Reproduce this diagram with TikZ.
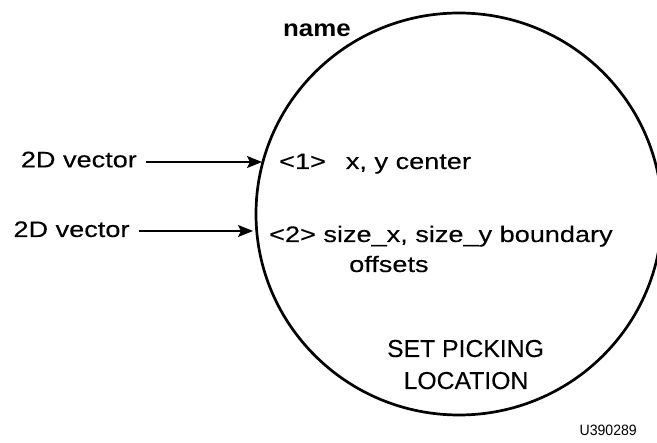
\documentclass[tikz,border=0pt]{standalone}
\usepackage{fontspec}
\setmainfont{Liberation Sans}
\newfontfamily\lblfont[FakeStretch=1.21,FakeBold=0.2]{Liberation Sans}
\newfontfamily\capfont[FakeStretch=1.01,FakeBold=0.2]{Liberation Sans}
\newfontfamily\namefont[FakeStretch=1.1]{Liberation Sans}
\newfontfamily\idfont[FakeStretch=0.94]{Liberation Sans}
\usetikzlibrary{arrows.meta,shapes.geometric}
\tikzset{
  lbl/.style={inner sep=0pt, anchor=base west, font=\lblfont\fontsize{22.4pt}{26pt}\selectfont},
  caplbl/.style={inner sep=0pt, anchor=base, font=\capfont\fontsize{24.5pt}{29pt}\selectfont},
  namelbl/.style={inner sep=0pt, anchor=base west, font=\namefont\bfseries\fontsize{23.5pt}{28pt}\selectfont},
  idlbl/.style={inner sep=0pt, anchor=base east, font=\idfont\fontsize{15pt}{18pt}\selectfont},
  proc/.style={draw, ellipse, line width=2.7pt, inner sep=0pt, minimum width=406pt, minimum height=402pt},
  arr/.style={line width=1.5pt, shorten <=9pt, -{Stealth[length=15pt,width=12pt,inset=3pt]}}
}
\begin{document}
\begin{tikzpicture}[x=1pt,y=-1pt]
\useasboundingbox (0,0) rectangle (657,443);
\fill[white] (0,0) rectangle (657,443);
\node[proc] (p) at (459,214) {};
\node[namelbl] (nm) at (283,37) {name};
\node[lbl] (v1) at (20.7,167.3) {2D vector};
\node[lbl] (v2) at (13.3,237) {2D vector};
\coordinate (t1) at (262,162);
\coordinate (t2) at (253,231);
\draw[arr] (v1.east |- t1) -- (t1);
\draw[arr] (v2.east |- t2) -- (t2);
\node[lbl] (l1) at (279,169) {<1>\hspace{20pt}x, y center};
\node[lbl] (l2) at (269,242) {<2> size\_x, size\_y boundary};
\node[lbl] (l3) at (349,272) {offsets};
\node[caplbl] (s1) at (465.5,357) {SET PICKING};
\node[caplbl] (s2) at (466,389) {LOCATION};
\node[idlbl] (id) at (637,436) {U390289};
\end{tikzpicture}
\end{document}
